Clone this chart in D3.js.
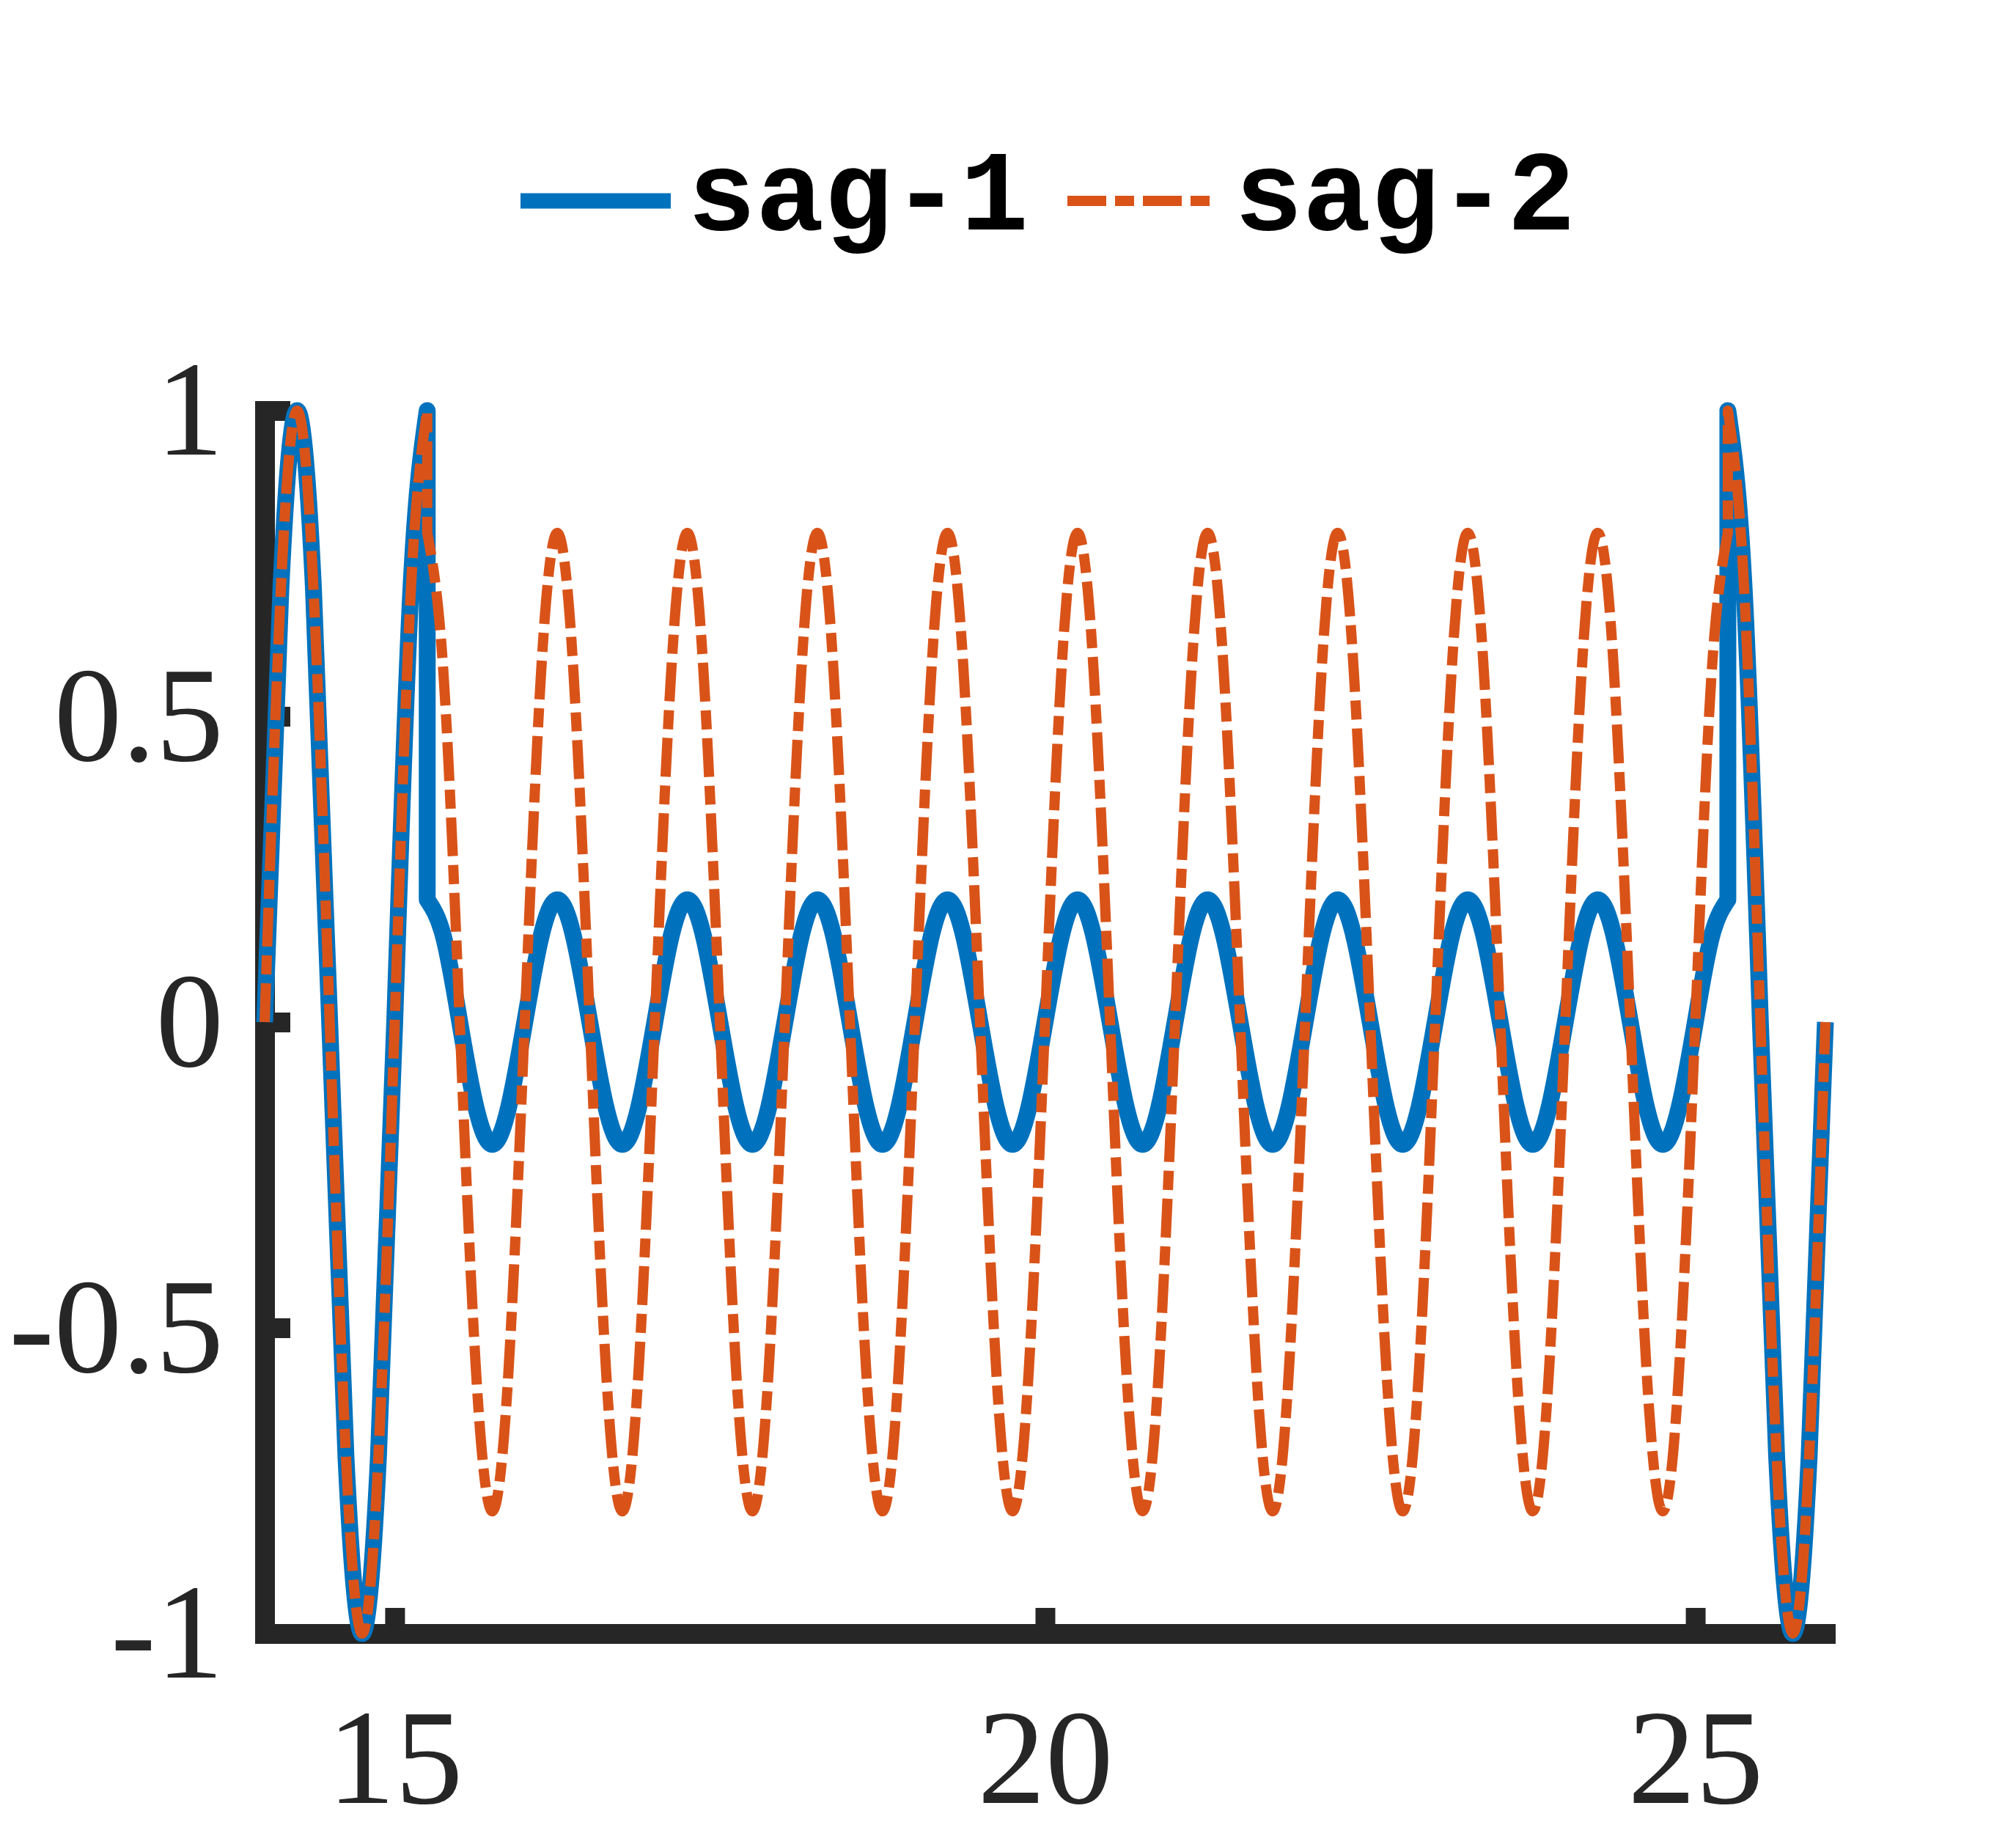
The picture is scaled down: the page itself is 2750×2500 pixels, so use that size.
<!DOCTYPE html>
<html>
<head>
<meta charset="utf-8">
<script src="https://cdn.jsdelivr.net/npm/d3@7"></script>
<style>
  body { margin: 0; background: white; }
</style>
</head>
<body>
<div id="chart"></div>
<script>
var width = 2750
var height = 2500

// plot box (pixels)
var plot = {left: 361, right: 2490, top: 560, bottom: 2228}

var timeSec = [
  14, 14.125, 14.25, 14.375, 14.5, 14.625, 14.75, 14.875,
  15, 15.125, 15.25,
  15.25, 15.375, 15.5, 15.625, 15.75, 15.875,
  16, 16.125, 16.25, 16.375, 16.5, 16.625, 16.75, 16.875,
  17, 17.125, 17.25, 17.375, 17.5, 17.625, 17.75, 17.875,
  18, 18.125, 18.25, 18.375, 18.5, 18.625, 18.75, 18.875,
  19, 19.125, 19.25, 19.375, 19.5, 19.625, 19.75, 19.875,
  20, 20.125, 20.25, 20.375, 20.5, 20.625, 20.75, 20.875,
  21, 21.125, 21.25, 21.375, 21.5, 21.625, 21.75, 21.875,
  22, 22.125, 22.25, 22.375, 22.5, 22.625, 22.75, 22.875,
  23, 23.125, 23.25, 23.375, 23.5, 23.625, 23.75, 23.875,
  24, 24.125, 24.25, 24.375, 24.5, 24.625, 24.75, 24.875,
  25, 25.125, 25.25,
  25.25, 25.375, 25.5, 25.625, 25.75, 25.875, 26
]

var sag1 = [
  0, 0.71, 1, 0.71, 0, -0.71, -1, -0.71,
  0, 0.71, 1,
  0.2, 0.14, 0, -0.14, -0.2, -0.14,
  0, 0.14, 0.2, 0.14, 0, -0.14, -0.2, -0.14,
  0, 0.14, 0.2, 0.14, 0, -0.14, -0.2, -0.14,
  0, 0.14, 0.2, 0.14, 0, -0.14, -0.2, -0.14,
  0, 0.14, 0.2, 0.14, 0, -0.14, -0.2, -0.14,
  0, 0.14, 0.2, 0.14, 0, -0.14, -0.2, -0.14,
  0, 0.14, 0.2, 0.14, 0, -0.14, -0.2, -0.14,
  0, 0.14, 0.2, 0.14, 0, -0.14, -0.2, -0.14,
  0, 0.14, 0.2, 0.14, 0, -0.14, -0.2, -0.14,
  0, 0.14, 0.2, 0.14, 0, -0.14, -0.2, -0.14,
  0, 0.14, 0.2,
  1, 0.71, 0, -0.71, -1, -0.71, 0
]

var sag2 = [
  0, 0.71, 1, 0.71, 0, -0.71, -1, -0.71,
  0, 0.71, 1,
  0.8, 0.57, 0, -0.57, -0.8, -0.57,
  0, 0.57, 0.8, 0.57, 0, -0.57, -0.8, -0.57,
  0, 0.57, 0.8, 0.57, 0, -0.57, -0.8, -0.57,
  0, 0.57, 0.8, 0.57, 0, -0.57, -0.8, -0.57,
  0, 0.57, 0.8, 0.57, 0, -0.57, -0.8, -0.57,
  0, 0.57, 0.8, 0.57, 0, -0.57, -0.8, -0.57,
  0, 0.57, 0.8, 0.57, 0, -0.57, -0.8, -0.57,
  0, 0.57, 0.8, 0.57, 0, -0.57, -0.8, -0.57,
  0, 0.57, 0.8, 0.57, 0, -0.57, -0.8, -0.57,
  0, 0.57, 0.8, 0.57, 0, -0.57, -0.8, -0.57,
  0, 0.57, 0.8,
  1, 0.71, 0, -0.71, -1, -0.71, 0
]

var seriesNames = ["sag-1", "sag-2"]
var xTicks = [15, 20, 25]
var yTicks = [-1, -0.5, 0, 0.5, 1]

var axisColor = "#262626"

// Scales

var x_scale = d3.scaleLinear()
    .domain([14, 26])
    .range([plot.left, plot.right])

var y_scale = d3.scaleLinear()
    .domain([-1, 1])
    .range([plot.bottom, plot.top])

var svg = d3.select("#chart")
    .append("svg")
    .attr("width", width)
    .attr("height", height)
    .style("background-color", "white")

// Axes (MATLAB look: thick lines, ticks inward, no box)

function styleAxis(g) {
    g.attr("font-family", "'Liberation Serif', 'Times New Roman', serif")
        .attr("font-size", 185)
    g.select(".domain")
        .attr("stroke", axisColor)
        .attr("stroke-width", 27)
        .attr("stroke-linecap", "square")
    g.selectAll(".tick line")
        .attr("stroke", axisColor)
        .attr("stroke-width", 27)
    g.selectAll(".tick text")
        .attr("fill", axisColor)
}

svg.append("g")
    .attr("transform", "translate(0," + plot.bottom + ")")
    .call(d3.axisBottom(x_scale)
        .tickValues(xTicks)
        .tickSizeInner(-35)
        .tickSizeOuter(0)
        .tickPadding(100)
        .tickFormat(function(d) { return String(d) }))
    .call(styleAxis)

svg.append("g")
    .attr("transform", "translate(" + plot.left + ",0)")
    .call(d3.axisLeft(y_scale)
        .tickValues(yTicks)
        .tickSizeInner(-35)
        .tickSizeOuter(0)
        .tickPadding(56)
        .tickFormat(function(d) { return String(d) }))
    .call(styleAxis)

// Lines: split where the time repeats (the jumps), then join with straight steps

var line = d3.line()
    .x(function(d) { return x_scale(d[0]) })
    .y(function(d) { return y_scale(d[1]) })
    .curve(d3.curveNatural)

function pathFor(values) {
    var segments = [[]]
    timeSec.forEach(function(t, i) {
        if (i > 0 && t === timeSec[i - 1]) segments.push([])
        segments[segments.length - 1].push([t, values[i]])
    })
    return segments.map(function(seg, i) {
        var p = line(seg)
        return i === 0 ? p : "L" + p.slice(1)
    }).join("")
}

var styles = [
    {color: "#0072BD", width: 23, dash: null},
    {color: "#D95319", width: 14, dash: "53,12,26,12"}
]

var seriesValues = [sag1, sag2]

svg.append("g")
    .selectAll("path")
    .data(seriesValues)
    .enter()
    .append("path")
    .attr("d", function(d) { return pathFor(d) })
    .attr("fill", "none")
    .attr("stroke", function(d, i) { return styles[i].color })
    .attr("stroke-width", function(d, i) { return styles[i].width })
    .attr("stroke-linejoin", "round")
    .attr("stroke-dasharray", function(d, i) { return styles[i].dash })

// Legend (horizontal, no box)

var legendX = [710, 1456]
var legend = svg.append("g")
    .selectAll("g")
    .data(seriesNames)
    .enter()
    .append("g")
    .attr("transform", function(d, i) { return "translate(" + legendX[i] + ",0)" })

legend.append("line")
    .attr("x1", 0)
    .attr("x2", 205)
    .attr("y1", 274)
    .attr("y2", 274)
    .attr("stroke", function(d, i) { return styles[i].color })
    .attr("stroke-width", function(d, i) { return i === 0 ? 21 : 14 })
    .attr("stroke-dasharray", function(d, i) { return styles[i].dash })

legend.append("text")
    .attr("x", 228)
    .attr("y", 313)
    .attr("font-family", "'Liberation Mono', 'Courier New', monospace")
    .attr("font-weight", "bold")
    .attr("font-size", 155)
    .attr("fill", "#000")
    .text(function(d) { return d })
</script>
</body>
</html>
